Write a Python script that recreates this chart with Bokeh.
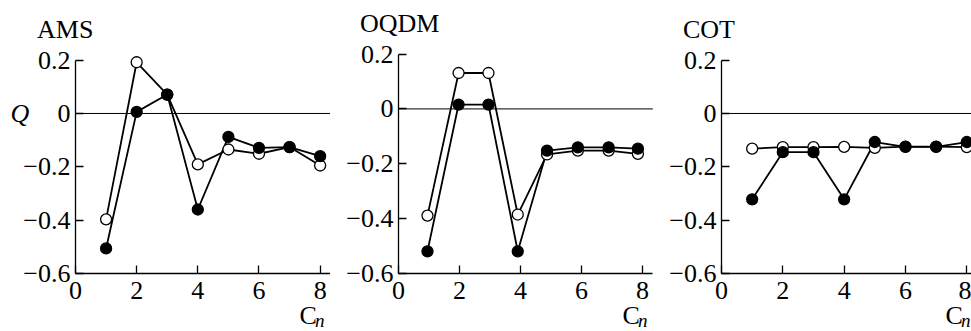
from bokeh.plotting import figure
from bokeh.layouts import row
from bokeh.models import Label, FixedTicker, CustomJSTickFormatter, Range1d
from bokeh.embed import file_html
from bokeh.resources import INLINE

# ---- data ----
titles = ["AMS", "OQDM", "COT"]

ams_x = [1, 2, 3, 4, 5, 6, 7, 8]
ams_open = [-0.397, 0.192, 0.071, -0.191, -0.135, -0.151, -0.126, -0.195]
ams_fill = [-0.506, 0.006, 0.071, -0.360, -0.088, -0.129, -0.126, -0.160]

oqdm_x = [0.95, 1.97, 2.95, 3.91, 4.87, 5.88, 6.89, 7.85]
oqdm_open = [-0.389, 0.131, 0.131, -0.385, -0.166, -0.152, -0.152, -0.164]
oqdm_fill = [-0.519, 0.016, 0.016, -0.519, -0.152, -0.140, -0.140, -0.145]

cot_x = [1, 2, 3, 4, 5, 6, 7, 8]
cot_open = [-0.132, -0.126, -0.126, -0.125, -0.129, -0.124, -0.124, -0.126]
cot_fill = [-0.322, -0.145, -0.145, -0.322, -0.107, -0.125, -0.125, -0.107]

x_ticks = [0, 2, 4, 6, 8]
y_ticks = [-0.6, -0.4, -0.2, 0, 0.2]
y_min, y_max = -0.6, 0.2

FONT = "Liberation Serif"
FS = "26px"
H = 331
SHIFT = 10.0  # correction of label baseline placement (pixels)

yfmt = CustomJSTickFormatter(code="""
if (Math.abs(tick) < 1e-9) { return "0"; }
var s = Math.abs(tick).toFixed(1);
return tick < 0 ? "\u2212" + s : s;
""")


def panel(title, xs, yo, yf, W, ox, sx, sy, title_base, ylab=False):
    # ox: pixel of x=0 inside figure; sx/sy: pixels per unit; y_min sits at pixel 273
    oy = 273.0
    x0 = -ox / sx
    x1 = (W - ox) / sx
    y1 = y_min + oy / sy
    y0 = y_min - (H - oy) / sy
    p = figure(width=W, height=H,
               min_border_left=0, min_border_right=0,
               min_border_top=0, min_border_bottom=0,
               x_range=Range1d(x0, x1), y_range=Range1d(y0, y1),
               output_backend="svg", toolbar_location=None, title=None)
    p.grid.visible = False
    p.outline_line_color = None
    p.background_fill_color = "white"
    p.border_fill_color = "white"

    x_axis_end = min(x1, 8.34)
    for ax in (p.xaxis[0], p.yaxis[0]):
        ax.axis_line_color = "black"
        ax.axis_line_width = 1.3
        ax.major_tick_line_color = "black"
        ax.major_tick_line_width = 1.3
        ax.major_tick_in = 8
        ax.major_tick_out = 0
        ax.minor_tick_line_color = None
        ax.major_label_text_font = FONT
        ax.major_label_text_font_size = FS
        ax.major_label_text_color = "black"

    xa = p.xaxis[0]
    xa.ticker = FixedTicker(ticks=x_ticks)
    xa.fixed_location = y_min
    xa.bounds = (0, x_axis_end)
    xa.major_label_standoff = 8

    ya = p.yaxis[0]
    ya.ticker = FixedTicker(ticks=y_ticks)
    ya.formatter = yfmt
    ya.fixed_location = 0
    ya.bounds = (y_min, y_max)
    ya.major_label_standoff = 5

    # zero reference line across the panel
    p.segment(x0=[0], y0=[0], x1=[x_axis_end], y1=[0], line_color="black", line_width=1)

    p.line(xs, yo, line_color="black", line_width=1.8)
    p.line(xs, yf, line_color="black", line_width=1.8)
    p.scatter(xs, yo, size=11, marker="circle", fill_color="white", line_color="black", line_width=1.3)
    p.scatter(xs, yf, size=11, marker="circle", fill_color="black", line_color="black", line_width=1.3)

    def ypix(pix):
        return y_min + (oy - (pix - SHIFT)) / sy

    # panel title (baseline pixel from top)
    p.add_layout(Label(x=-38.5 / sx, y=ypix(title_base), text=title,
                       text_font=FONT, text_font_size=FS, text_color="black",
                       text_align="left", text_baseline="alphabetic"))

    # axis name C_n at lower right
    xc = 224.0 / sx
    p.add_layout(Label(x=xc, y=ypix(325.0), text="C", text_font=FONT,
                       text_font_size=FS, text_color="black", text_align="left",
                       text_baseline="alphabetic"))
    p.add_layout(Label(x=xc + 15.5 / sx, y=ypix(330.0), text="n", text_font=FONT,
                       text_font_size="19px", text_font_style="italic", text_color="black",
                       text_align="left", text_baseline="alphabetic"))
    if ylab:
        p.add_layout(Label(x=-65.0 / sx, y=ypix(123.0), text="Q", text_font=FONT,
                           text_font_size=FS, text_font_style="italic", text_color="black",
                           text_align="left", text_baseline="alphabetic"))
    return p


p1 = panel(titles[0], ams_x, ams_open, ams_fill, 330, 75.0, 30.58, 266.7, 39.3, ylab=True)
p2 = panel(titles[1], oqdm_x, oqdm_open, oqdm_fill, 323, 68.0, 30.5, 274.3, 33.3)
p3 = panel(titles[2], cot_x, cot_open, cot_fill, 318, 68.0, 30.66, 266.7, 39.3)

layout = row(p1, p2, p3, spacing=0)
open("out.html", "w").write(file_html(layout, INLINE))
